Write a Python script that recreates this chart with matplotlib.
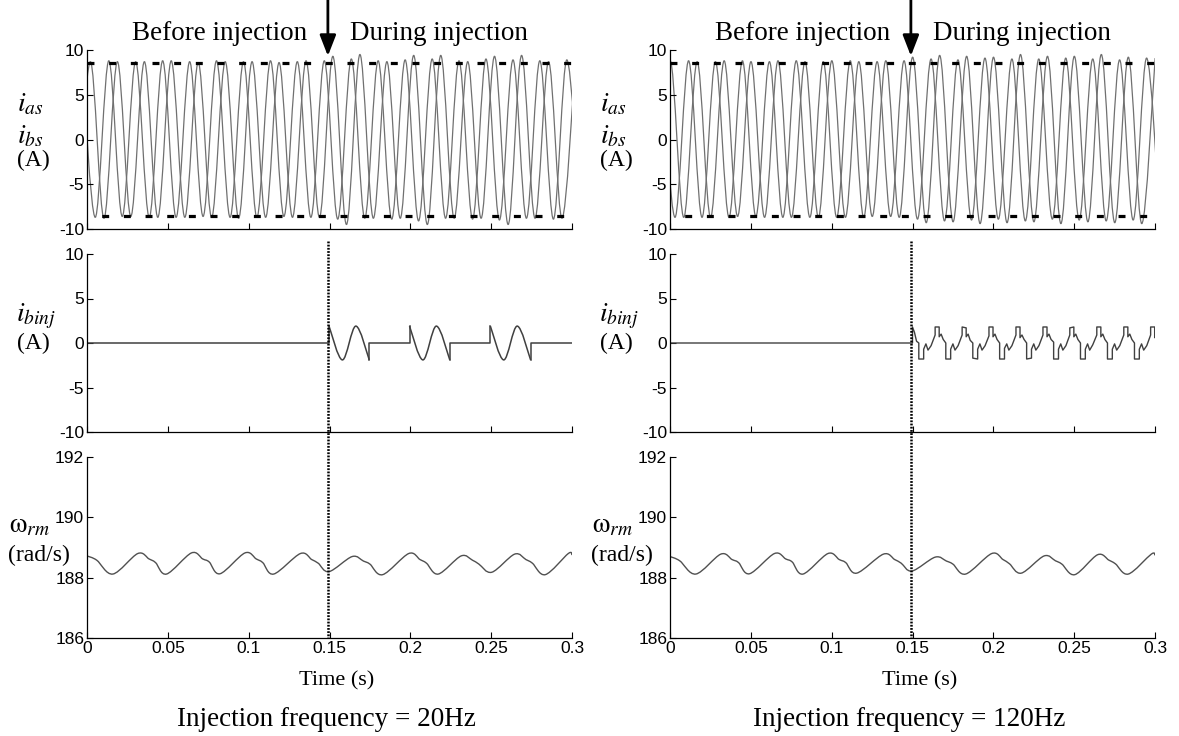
import numpy as np
import matplotlib
matplotlib.use('Agg')
import matplotlib.pyplot as plt
from matplotlib.path import Path
from matplotlib.patches import PathPatch, FancyArrowPatch
from matplotlib.lines import Line2D
from matplotlib.transforms import blended_transform_factory

plt.rcParams['font.family'] = ['Liberation Sans', 'DejaVu Sans']
plt.rcParams['mathtext.fontset'] = 'stix'
plt.rcParams['axes.unicode_minus'] = False
plt.rcParams['lines.scale_dashes'] = False

# ---------------- data ----------------
x_ticks = [0, 0.05, 0.1, 0.15, 0.2, 0.25, 0.3]
x_tick_labels = ['0', '0.05', '0.1', '0.15', '0.2', '0.25', '0.3']
i_ticks = [-10, -5, 0, 5, 10]
w_ticks = [186, 188, 190, 192]
t_inj = 0.149          # start of injection (arrow / dotted line)
i_rated = 8.6          # dashed reference level in the current plots

# phase currents: times and values of successive peaks/troughs (20 Hz case)
ias20_t = [-0.0032, 0.0051, 0.0135, 0.0218, 0.0301, 0.0385, 0.0468, 0.0551, 0.0635, 0.0718,
           0.0801, 0.0885, 0.0968, 0.1051, 0.1135, 0.1218, 0.1301, 0.1385, 0.1468, 0.1551,
           0.1635, 0.1718, 0.1801, 0.1885, 0.1968, 0.2051, 0.2135, 0.2218, 0.2301, 0.2385,
           0.2468, 0.2551, 0.2635, 0.2718, 0.2801, 0.2885, 0.2968, 0.3051]
ias20_v = [8.7, -8.7, 8.8, -8.6, 8.7, -8.7, 8.8, -8.7, 8.7, -8.6, 8.8, -8.7, 8.7, -8.7, 8.8,
           -8.6, 8.7, -8.7, 8.8, -8.9, 9.0, -8.8, 8.8, -8.9, 8.9, -9.1, 9.0, -8.8, 8.8, -8.9,
           9.0, -9.0, 8.9, -8.8, 8.8, -8.9, 8.9, -8.7]
ibs20_t = [-0.0062, 0.0021, 0.0105, 0.0188, 0.0271, 0.0355, 0.0438, 0.0521, 0.0605, 0.0688,
           0.0771, 0.0855, 0.0938, 0.1021, 0.1105, 0.1188, 0.1271, 0.1355, 0.1438, 0.1521,
           0.1605, 0.1688, 0.1771, 0.1855, 0.1938, 0.2021, 0.2105, 0.2188, 0.2271, 0.2355,
           0.2438, 0.2521, 0.2605, 0.2688, 0.2771, 0.2855, 0.2938, 0.3021]
ibs20_v = [-8.7, 8.7, -8.8, 8.7, -8.6, 8.7, -8.7, 8.8, -8.7, 8.6, -8.7, 8.7, -8.8, 8.7, -8.7,
           8.6, -8.7, 8.8, -8.7, 9.3, -9.5, 9.5, -8.8, 8.7, -8.8, 9.4, -9.5, 9.4, -8.8, 8.7,
           -8.8, 9.3, -9.5, 9.4, -8.8, 8.7, -8.8, 8.7]

# phase currents (120 Hz case)
ias120_t = [-0.0052, 0.0031, 0.0115, 0.0198, 0.0281, 0.0365, 0.0448, 0.0531, 0.0615, 0.0698,
            0.0781, 0.0865, 0.0948, 0.1031, 0.1115, 0.1198, 0.1281, 0.1365, 0.1448, 0.1531,
            0.1615, 0.1698, 0.1781, 0.1865, 0.1948, 0.2031, 0.2115, 0.2198, 0.2281, 0.2365,
            0.2448, 0.2531, 0.2615, 0.2698, 0.2781, 0.2865, 0.2948, 0.3031]
ias120_v = [8.7, -8.7, 8.8, -8.7, 8.7, -8.7, 8.8, -8.6, 8.7, -8.7, 8.8, -8.7, 8.7, -8.7, 8.8,
            -8.7, 8.7, -8.6, 8.8, -8.9, 9.0, -9.1, 8.9, -9.0, 9.1, -8.9, 9.0, -9.1, 9.0, -8.9,
            9.1, -9.0, 9.0, -9.1, 8.9, -9.0, 9.1, -8.9]
ibs120_t = [-0.0082, 0.0001, 0.0085, 0.0168, 0.0251, 0.0335, 0.0418, 0.0501, 0.0585, 0.0668,
            0.0751, 0.0835, 0.0918, 0.1001, 0.1085, 0.1168, 0.1251, 0.1335, 0.1418, 0.1501,
            0.1585, 0.1668, 0.1751, 0.1835, 0.1918, 0.2001, 0.2085, 0.2168, 0.2251, 0.2335,
            0.2418, 0.2501, 0.2585, 0.2668, 0.2751, 0.2835, 0.2918, 0.3001]
ibs120_v = [-8.7, 8.8, -8.7, 8.7, -8.7, 8.8, -8.6, 8.7, -8.7, 8.8, -8.7, 8.7, -8.7, 8.8, -8.7,
            8.7, -8.6, 8.8, -8.7, 9.2, -9.3, 9.4, -9.2, 9.3, -9.4, 9.2, -9.3, 9.5, -9.2, 9.3,
            -9.4, 9.3, -9.2, 9.5, -9.3, 9.2, -9.4, 9.1]

# injected current, 20 Hz: three gated bursts (peak/trough points)
binj20_t = [[0.1497, 0.1580, 0.1663, 0.1746],
            [0.1995, 0.2078, 0.2161, 0.2244],
            [0.2495, 0.2578, 0.2661, 0.2744]]
binj20_v = [[1.9, -1.9, 1.9, -1.9],
            [1.9, -1.9, 1.9, -1.9],
            [1.9, -1.9, 1.9, -1.9]]

# injected current, 120 Hz: corner points of the chopped waveform
binj120_t = [0.0, 0.1500, 0.1500, 0.1512, 0.1525, 0.1539, 0.1539, 0.1569, 0.1569, 0.1583, 0.1596, 0.1615,
             0.1640, 0.1640, 0.1665, 0.1665, 0.1677, 0.1690, 0.1706, 0.1706, 0.1736, 0.1736, 0.1750, 0.1763, 0.1782,
             0.1807, 0.1807, 0.1832, 0.1832, 0.1844, 0.1857, 0.1873, 0.1873, 0.1903, 0.1903, 0.1917, 0.1930, 0.1949,
             0.1973, 0.1973, 0.1998, 0.1998, 0.2010, 0.2023, 0.2039, 0.2039, 0.2069, 0.2069, 0.2083, 0.2096, 0.2115,
             0.2140, 0.2140, 0.2165, 0.2165, 0.2177, 0.2190, 0.2206, 0.2206, 0.2236, 0.2236, 0.2250, 0.2263, 0.2282,
             0.2307, 0.2307, 0.2332, 0.2332, 0.2344, 0.2357, 0.2373, 0.2373, 0.2403, 0.2403, 0.2417, 0.2430, 0.2449,
             0.2473, 0.2473, 0.2498, 0.2498, 0.2510, 0.2523, 0.2539, 0.2539, 0.2569, 0.2569, 0.2583, 0.2596, 0.2615,
             0.2640, 0.2640, 0.2665, 0.2665, 0.2677, 0.2690, 0.2706, 0.2706, 0.2736, 0.2736, 0.2750, 0.2763, 0.2782,
             0.2807, 0.2807, 0.2832, 0.2832, 0.2844, 0.2857, 0.2873, 0.2873, 0.2903, 0.2903, 0.2917, 0.2930, 0.2949,
             0.2973, 0.2973, 0.2998, 0.2998, 0.3000]
binj120_v = [0.0, 0.0, 1.8, 1.2, 0.2, 0.0, -1.8, -1.8, -0.7, -0.1, -0.8, -0.3,
             0.9, 1.8, 1.8, 0.7, 1.0, 0.4, 0.0, -1.8, -1.8, -0.7, -0.1, -0.8, -0.3,
             0.9, 1.8, 1.7, 0.7, 1.0, 0.3, 0.0, -1.7, -1.8, -0.7, -0.1, -0.8, -0.3,
             0.8, 1.8, 1.8, 0.7, 1.0, 0.4, 0.0, -1.8, -1.8, -0.6, -0.1, -0.8, -0.3,
             0.9, 1.8, 1.8, 0.6, 0.9, 0.4, 0.0, -1.8, -1.7, -0.7, -0.1, -0.8, -0.3,
             0.9, 1.8, 1.8, 0.7, 1.0, 0.4, 0.1, -1.8, -1.8, -0.7, -0.1, -0.8, -0.3,
             0.9, 1.7, 1.8, 0.7, 1.0, 0.4, 0.0, -1.8, -1.8, -0.7, -0.1, -0.8, -0.2,
             0.9, 1.8, 1.8, 0.7, 1.0, 0.4, 0.0, -1.8, -1.8, -0.7, -0.1, -0.8, -0.3,
             0.9, 1.8, 1.8, 0.7, 1.0, 0.4, 0.0, -1.8, -1.8, -0.7, -0.1, -0.8, -0.3,
             0.9, 1.8, 1.8, 0.6, 0.7]

# rotor speed: troughs, peaks and shoulders of the ripple
w_t = [0.0, 0.0060, 0.0160, 0.0314, 0.0384, 0.0424, 0.0492, 0.0646, 0.0716, 0.0756, 0.0823,
       0.0977, 0.1047, 0.1087, 0.1155, 0.1320, 0.1390, 0.1430, 0.1497, 0.1640, 0.1710, 0.1750,
       0.1829, 0.1990, 0.2060, 0.2100, 0.2173, 0.2314, 0.2384, 0.2424, 0.2504, 0.2645, 0.2715,
       0.2755, 0.2835, 0.2977, 0.3000]
w20_v = [188.72, 188.58, 188.12, 188.80, 188.62, 188.50, 188.12, 188.82, 188.62, 188.52, 188.13,
         188.82, 188.62, 188.50, 188.12, 188.80, 188.60, 188.48, 188.20, 188.70, 188.55, 188.45,
         188.10, 188.80, 188.60, 188.48, 188.12, 188.72, 188.58, 188.45, 188.18, 188.78, 188.60,
         188.48, 188.10, 188.80, 188.75]
w120_v = [188.70, 188.56, 188.12, 188.78, 188.60, 188.50, 188.13, 188.80, 188.62, 188.52, 188.12,
          188.80, 188.60, 188.50, 188.15, 188.78, 188.60, 188.48, 188.22, 188.68, 188.55, 188.45,
          188.12, 188.80, 188.60, 188.46, 188.15, 188.72, 188.56, 188.45, 188.10, 188.76, 188.58,
          188.46, 188.12, 188.78, 188.74]

W, H = 1179, 736
wave_col = '#707070'


def smooth_line(ax, t, v, color, lw):
    """Smooth (Catmull-Rom) curve through the read points."""
    p = np.column_stack([t, v]).astype(float)
    ext = np.vstack([p[0], p, p[-1]])
    verts = [p[0]]
    codes = [Path.MOVETO]
    for i in range(len(p) - 1):
        verts += [p[i] + (ext[i + 2] - ext[i]) / 6,
                  p[i + 1] - (ext[i + 3] - ext[i + 1]) / 6,
                  p[i + 1]]
        codes += [Path.CURVE4] * 3
    ax.add_patch(PathPatch(Path(verts, codes), fill=False, edgecolor=color,
                           lw=lw, joinstyle='round'))


def add_axes(left, top, bottom):
    return fig.add_axes([left / W, 1 - bottom / H, 485 / W, (bottom - top) / H])


def style(ax, ylim, yticks, xlabels):
    ax.set_xlim(0, 0.3)
    ax.set_ylim(*ylim)
    ax.set_xticks(x_ticks)
    ax.set_yticks(yticks)
    ax.set_yticklabels([str(v) for v in yticks])
    ax.set_xticklabels(x_tick_labels if xlabels else [])
    ax.spines[['top', 'right']].set_visible(False)
    for s in ['left', 'bottom']:
        ax.spines[s].set_linewidth(0.9)
    ax.tick_params(direction='in', length=4, width=0.8, labelsize=12.5, pad=2)


def label(x, y, s, size, **kw):
    fig.text(x / W, 1 - y / H, s, fontsize=size, ha='center', va='center', **kw)


fig = plt.figure(figsize=(W / 100, H / 100), dpi=100)

panels = [
    (87, ias20_t, ias20_v, ibs20_t, ibs20_v, binj20_t, binj20_v, None, w20_v, '20Hz'),
    (670, ias120_t, ias120_v, ibs120_t, ibs120_v, None, None, (binj120_t, binj120_v), w120_v, '120Hz'),
]

for (left, ta, va, tb, vb, bt, bv, chop, wv, freq) in panels:
    dx = left - 87
    ax1 = add_axes(left, 50, 229)
    ax2 = add_axes(left, 254, 432)
    ax3 = add_axes(left, 457, 638)

    # phase currents
    style(ax1, (-10, 10), i_ticks, False)
    smooth_line(ax1, ta, va, wave_col, 0.9)
    smooth_line(ax1, tb, vb, wave_col, 0.9)
    ax1.axhline(i_rated, color='black', lw=2.3, linestyle=(0, (5, 10.6)))
    ax1.axhline(-i_rated, color='black', lw=2.3, linestyle=(5, (5, 10.6)))

    # injected current
    style(ax2, (-10, 10), i_ticks, False)
    if bt is not None:
        lt, lv = [0.0], [0.0]
        for seg_t, seg_v in zip(bt, bv):
            lt += [seg_t[0], seg_t[0]]
            lv += [0.0, seg_v[0]]
            ax2.plot(lt, lv, color='#404040', lw=1.1)
            smooth_line(ax2, seg_t, seg_v, '#404040', 1.1)
            lt, lv = [seg_t[-1], seg_t[-1]], [seg_v[-1], 0.0]
        ax2.plot(lt + [0.3], lv + [0.0], color='#404040', lw=1.1)
    else:
        ax2.plot(chop[0], chop[1], color='#404040', lw=1.0)

    # rotor speed
    style(ax3, (186, 192), w_ticks, True)
    smooth_line(ax3, w_t, wv, '#505050', 1.0)

    # dotted line marking the injection start
    tr = blended_transform_factory(ax3.transData, fig.transFigure)
    fig.add_artist(Line2D([t_inj, t_inj], [1 - 241 / H, 1 - 638 / H], transform=tr,
                          color='black', lw=1.8, linestyle=(0, (1.3, 1.0))))
    # arrow at the top
    fig.add_artist(FancyArrowPatch((t_inj, 1.0), (t_inj, 1 - 56 / H), transform=tr,
                                   arrowstyle='-|>,head_length=0.9,head_width=0.35',
                                   mutation_scale=14, color='black', lw=2.0,
                                   shrinkA=0, shrinkB=0))

    serif = dict(family=['Liberation Serif', 'DejaVu Serif'])
    label(220 + dx, 33, 'Before injection', 19.5, **serif)
    label(439 + dx, 33, 'During injection', 19.5, **serif)
    label(337 + dx, 681, 'Time (s)', 16, **serif)
    label(326 + dx, 720, 'Injection frequency = ' + freq, 19.5, **serif)

    # y labels
    label(30 + dx, 104, r'$i_{as}$', 20)
    label(30 + dx, 136, r'$i_{bs}$', 20)
    label(33 + dx, 160, '(A)', 17, **serif)
    label(36 + dx, 316, r'$i_{binj}$', 20)
    label(33 + dx, 343, '(A)', 17, **serif)
    label(30 + dx, 525, r'$\mathrm{\omega}_{rm}$', 20)
    label(39 + dx, 555, '(rad/s)', 17, **serif)

fig.savefig('out.png', dpi=100)
